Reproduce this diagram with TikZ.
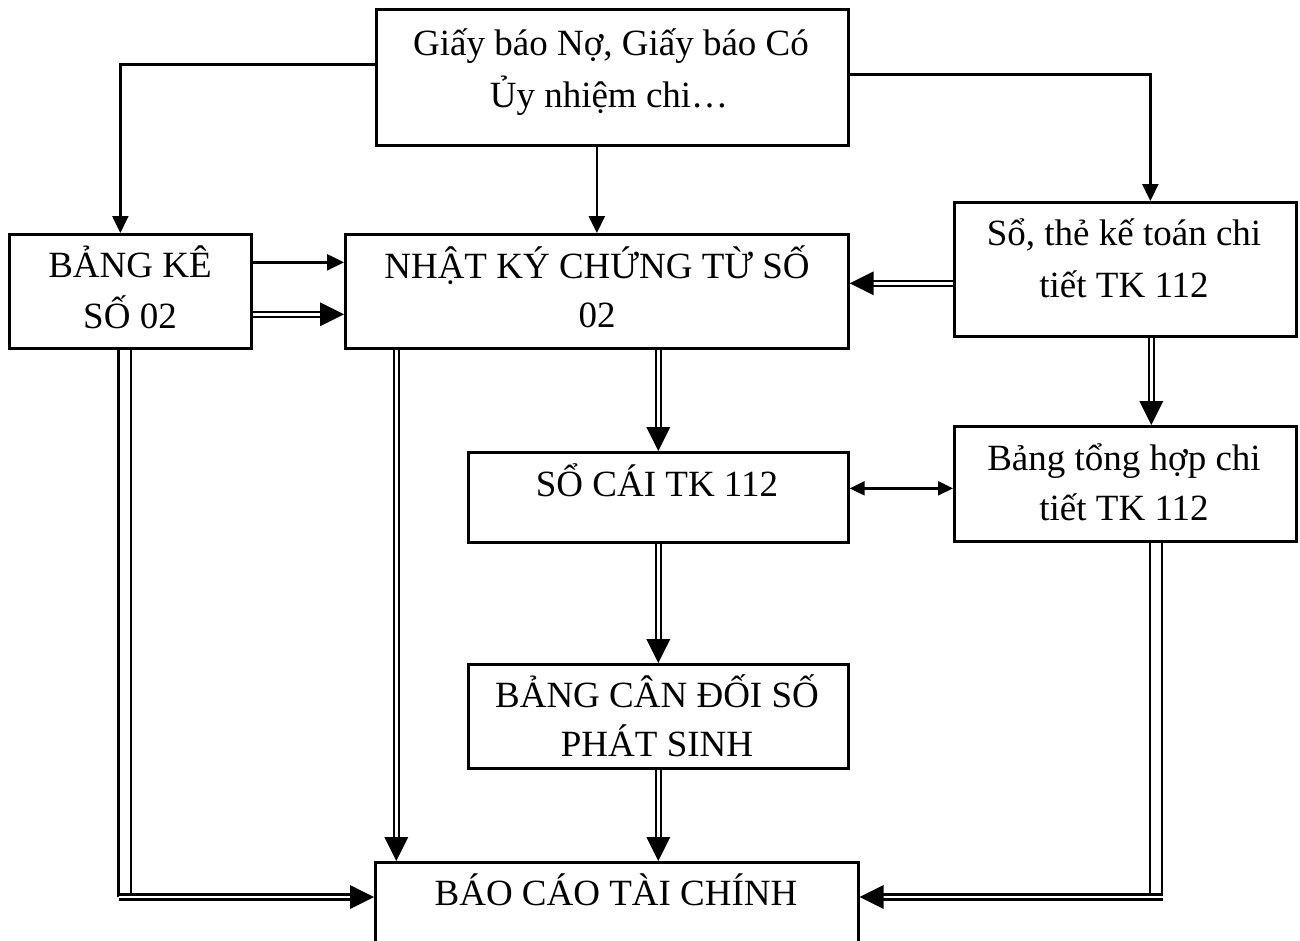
\documentclass[tikz,border=0pt]{standalone}
\usepackage{fontspec}
\setmainfont{Liberation Serif}
\usetikzlibrary{arrows.meta,decorations.markings,backgrounds}
\tikzset{
  box/.style={draw, line width=2.7pt, inner sep=0pt, anchor=north west},
  txt/.style={inner sep=0pt, anchor=base, font=\fontsize{37}{44}\selectfont},
  sarr/.style={line width=2.4pt, -{Triangle[length=17pt,width=16pt]}},
  barr/.style={line width=2.4pt, {Triangle[length=15pt,width=14pt]}-{Triangle[length=15pt,width=14pt]}},
  dline/.style={line width=2.4pt, double, double distance=2.6pt},
  wline/.style={line width=2.3pt, double, double distance=10pt},
  dbl/.style={dline, shorten >=14pt,
    postaction={decorate, decoration={markings, mark=at position 1 with {\fill[shorten >=0pt] (0pt,0pt) -- (-24pt,12pt) -- (-24pt,-12pt) -- cycle;}}}},
}
\begin{document}
\begin{tikzpicture}[x=1pt,y=-1pt]
\useasboundingbox (0,0) rectangle (1300,940);
\clip (0,0) rectangle (1300,940);

% boxes
\node[box, minimum width=472pt, minimum height=136pt] (top) at (375,8) {};
\node[box, minimum width=242pt, minimum height=114pt] (bk) at (8,233) {};
\node[box, minimum width=503pt, minimum height=114pt] (nk) at (344,233) {};
\node[box, minimum width=342pt, minimum height=134pt] (so) at (953,201) {};
\node[box, minimum width=380pt, minimum height=90pt] (sc) at (467,451) {};
\node[box, minimum width=342pt, minimum height=115pt] (th) at (953,425) {};
\node[box, minimum width=380pt, minimum height=104pt] (cd) at (467,663) {};
\node[box, minimum width=483pt, minimum height=120pt] (bc) at (374,861) {};

% texts
\node[txt] (top1) at (611,55) {Giấy báo Nợ, Giấy báo Có};
\node[txt] (top2) at (609,107) {Ủy nhiệm chi…};
\node[txt] (bk1) at (130,277) {BẢNG KÊ};
\node[txt] (bk2) at (130,328) {SỐ 02};
\node[txt] (nk1) at (597,278) {NHẬT KÝ CHỨNG TỪ SỐ};
\node[txt] (nk2) at (597,327) {02};
\node[txt] (so1) at (1124,245) {Sổ, thẻ kế toán chi};
\node[txt] (so2) at (1124,297) {tiết TK 112};
\node[txt] (sc1) at (657,496) {SỔ CÁI TK 112};
\node[txt] (th1) at (1124,470) {Bảng tổng hợp chi};
\node[txt] (th2) at (1124,520) {tiết TK 112};
\node[txt] (cd1) at (657,707) {BẢNG CÂN ĐỐI SỐ};
\node[txt] (cd2) at (657,756) {PHÁT SINH};
\node[txt] (bc1) at (616,905) {BÁO CÁO TÀI CHÍNH};

\coordinate (lc) at (124.5,897);
\coordinate (rc) at (1156,897);

\begin{scope}[on background layer]
\fill[white] (0,0) rectangle (1300,940);
% single arrows
\draw[sarr] ([yshift=13pt]top.west) -| ([xshift=-10pt]bk.north);
\draw[sarr] (nk.north |- top.south) -- (nk.north);
\draw[sarr] ([yshift=3pt]top.east) -| ([xshift=25pt]so.north);
\draw[sarr] ([yshift=29pt]bk.east) -- ([yshift=29pt]nk.west);
\draw[barr] ([yshift=9pt]sc.east) -- ([yshift=-4.5pt]th.west);
% double arrows
\draw[dbl] ([yshift=-23pt]bk.east) -- ([yshift=-23pt]nk.west);
\draw[dbl] ([yshift=-14pt]so.west) -- ([yshift=8pt]nk.east);
\draw[dbl] (sc.north |- nk.south) -- (sc.north);
\draw[dbl] ([xshift=26pt]so.south) -- ([xshift=26pt]th.north);
\draw[dbl] (sc.south) -- (cd.north);
\draw[dbl] (cd.south) -- (cd.south |- bc.north);
\draw[dbl] ([xshift=-200.5pt]nk.south) -- ([xshift=-220.5pt]bc.north);
% long side connectors
\draw[wline] (bk.south -| lc) -- (lc);
\draw[dbl] ([xshift=-6pt]lc) -- (lc -| bc.west);
\draw[wline] (th.south -| rc) -- (rc);
\draw[dbl] ([xshift=7pt]rc) -- (rc -| bc.east);
\end{scope}
\end{tikzpicture}
\end{document}
